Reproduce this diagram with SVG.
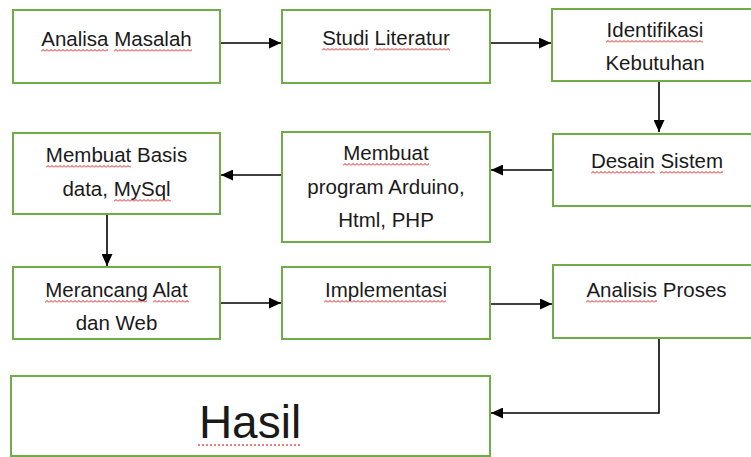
<svg xmlns="http://www.w3.org/2000/svg" width="751" height="457" viewBox="0 0 751 457">
<style>
.box{fill:#fff;stroke:#70AD47;stroke-width:2}
.t{font-family:"Liberation Sans",Arial,sans-serif;font-size:20.5px;fill:#1a1a1a;text-anchor:middle}
.big{font-size:46px}
.c{fill:none;stroke:#000;stroke-width:1.6}
.sq{fill:url(#sq)}
</style>
<defs>
<marker id="ah" markerUnits="userSpaceOnUse" markerWidth="13" markerHeight="11" refX="12" refY="5.5" orient="auto">
<path d="M0,0 L12,5.5 L0,11 z" fill="#000"/>
</marker>
<pattern id="sq" patternUnits="userSpaceOnUse" width="4" height="3">
<path d="M0,2.5 L2,0.5 L4,2.5" fill="none" stroke="#e00000" stroke-width="0.9"/>
</pattern>
</defs>
<rect width="751" height="457" fill="#fff"/>
<g id="connectors">
<path class="c" d="M220,43 H281" marker-end="url(#ah)"/>
<path class="c" d="M490,43 H551" marker-end="url(#ah)"/>
<path class="c" d="M659,81 V132" marker-end="url(#ah)"/>
<path class="c" d="M553,170 H491" marker-end="url(#ah)"/>
<path class="c" d="M282,175 H221" marker-end="url(#ah)"/>
<path class="c" d="M107,214 V266" marker-end="url(#ah)"/>
<path class="c" d="M220,303 H281" marker-end="url(#ah)"/>
<path class="c" d="M490,304 H552" marker-end="url(#ah)"/>
<path class="c" d="M659,338 V413 H491" marker-end="url(#ah)"/>
</g>
<g id="analisa-masalah">
<rect class="box" x="13" y="10" width="207" height="73"/>
<text class="t" x="116.5" y="46">Analisa Masalah</text>
<rect class="sq" transform="translate(41,49)" width="67" height="3"/>
<rect class="sq" transform="translate(114,49)" width="78" height="3"/>
</g>
<g id="studi-literatur">
<rect class="box" x="282" y="10" width="208" height="73"/>
<text class="t" x="386" y="45">Studi Literatur</text>
<rect class="sq" transform="translate(322,48)" width="47" height="3"/>
<rect class="sq" transform="translate(374,48)" width="76" height="3"/>
</g>
<g id="identifikasi-kebutuhan">
<rect class="box" x="552" y="9" width="208" height="72"/>
<text class="t" x="655" y="37">Identifikasi</text>
<text class="t" x="655" y="70">Kebutuhan</text>
<rect class="sq" transform="translate(606,40)" width="97" height="3"/>
</g>
<g id="membuat-basis-data">
<rect class="box" x="13" y="133" width="207" height="81"/>
<text class="t" x="116.5" y="162">Membuat Basis</text>
<text class="t" x="116.5" y="196">data, MySql</text>
<rect class="sq" transform="translate(46,165)" width="85" height="3"/>
<rect class="sq" transform="translate(114,199)" width="57" height="3"/>
</g>
<g id="membuat-program">
<rect class="box" x="282" y="132" width="208" height="110"/>
<text class="t" x="386" y="160">Membuat</text>
<text class="t" x="386" y="194">program Arduino,</text>
<text class="t" x="386" y="227">Html, PHP</text>
<rect class="sq" transform="translate(343,163)" width="86" height="3"/>
</g>
<g id="desain-sistem">
<rect class="box" x="553" y="134" width="207" height="72"/>
<text class="t" x="657" y="168">Desain Sistem</text>
<rect class="sq" transform="translate(591,171)" width="64" height="3"/>
<rect class="sq" transform="translate(660,171)" width="63" height="3"/>
</g>
<g id="merancang-alat">
<rect class="box" x="13" y="267" width="207" height="72"/>
<text class="t" x="116.5" y="297">Merancang Alat</text>
<text class="t" x="116.5" y="330">dan Web</text>
<rect class="sq" transform="translate(45,300)" width="102" height="3"/>
<rect class="sq" transform="translate(153,300)" width="36" height="3"/>
</g>
<g id="implementasi">
<rect class="box" x="282" y="267" width="208" height="72"/>
<text class="t" x="386" y="297">Implementasi</text>
<rect class="sq" transform="translate(324,300)" width="122" height="3"/>
</g>
<g id="analisis-proses">
<rect class="box" x="553" y="265" width="207" height="73"/>
<text class="t" x="656.5" y="297">Analisis Proses</text>
<rect class="sq" transform="translate(586,300)" width="71" height="3"/>
</g>
<g id="hasil">
<rect class="box" x="11" y="376" width="479" height="80"/>
<text class="t big" x="250" y="438">Hasil</text>
<line x1="198" y1="445" x2="302" y2="445" stroke="#e00000" stroke-width="1" stroke-dasharray="2 2"/>
</g>
</svg>
